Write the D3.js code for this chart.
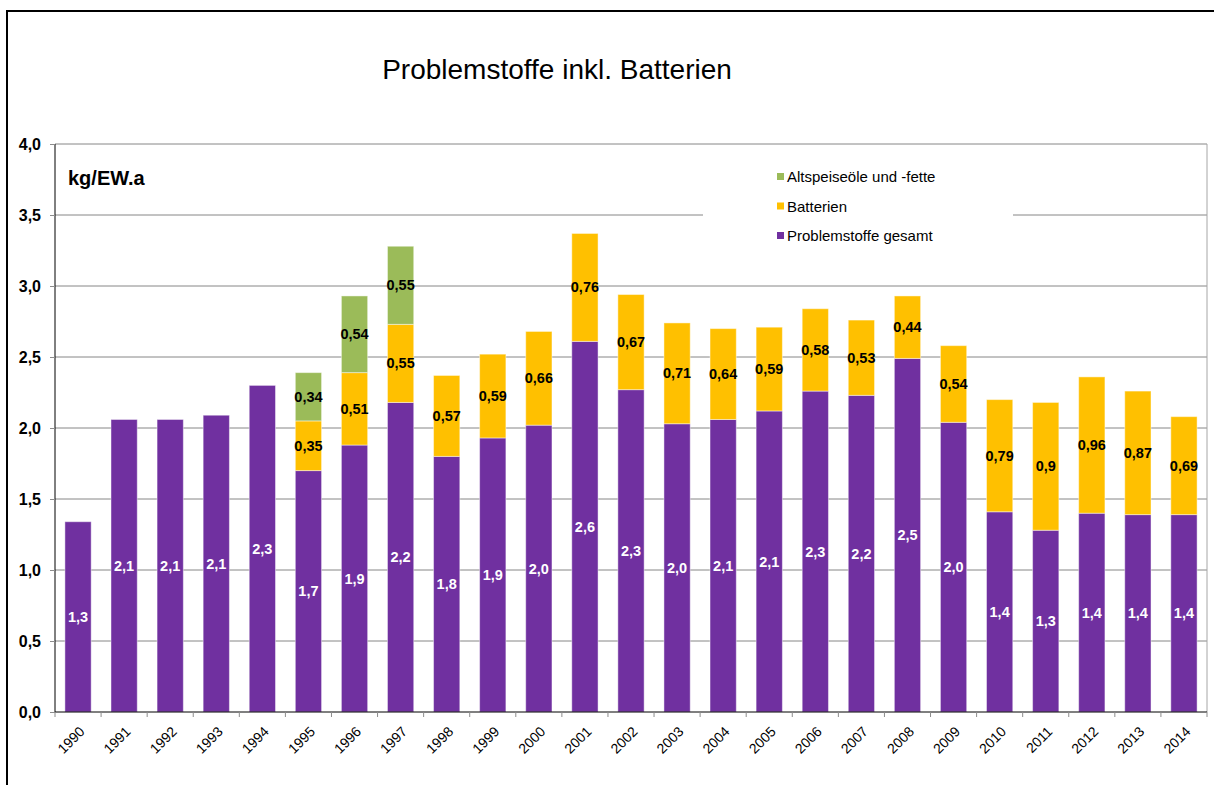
<!DOCTYPE html>
<html>
<head>
<meta charset="utf-8">
<script src="https://cdn.jsdelivr.net/npm/d3@7"></script>
<style>
  body { margin: 0; background: #fff; }
  svg { font-family: "Liberation Sans", Arial, sans-serif; }
</style>
</head>
<body>
<div id="chart"></div>
<script>
// Data
const years = ["1990","1991","1992","1993","1994","1995","1996","1997","1998","1999","2000","2001","2002",
               "2003","2004","2005","2006","2007","2008","2009","2010","2011","2012","2013","2014"];
const problemstoffe = [1.34,2.06,2.06,2.09,2.30,1.70,1.88,2.18,1.80,1.93,2.02,2.61,2.27,
                       2.03,2.06,2.12,2.26,2.23,2.49,2.04,1.41,1.28,1.40,1.39,1.39];
const batterien = [null,null,null,null,null,0.35,0.51,0.55,0.57,0.59,0.66,0.76,0.67,
                   0.71,0.64,0.59,0.58,0.53,0.44,0.54,0.79,0.90,0.96,0.87,0.69];
const altspeiseoele = [null,null,null,null,null,0.34,0.54,0.55,null,null,null,null,null,
                       null,null,null,null,null,null,null,null,null,null,null,null];
const yTicks = [0,0.5,1,1.5,2,2.5,3,3.5,4];

const seriesNames = ["Problemstoffe gesamt", "Batterien", "Altspeiseöle und -fette"];
const colors = ["#7030A0", "#FFC000", "#9BBB59"];
const labelColors = ["#fff", "#000", "#000"];

const width = 1215, height = 785;
const margin = { top: 144, right: 8, bottom: 73, left: 55 };
const innerW = width - margin.left - margin.right;
const innerH = height - margin.top - margin.bottom;

const svg = d3.select("#chart").append("svg")
    .attr("width", width)
    .attr("height", height);

// Outer frame (top and left edges visible)
svg.append("path")
    .attr("d", "M7,786 L7,11 L1214,11")
    .attr("fill", "none")
    .attr("stroke", "#000")
    .attr("stroke-width", 2);

// Title
svg.append("text")
    .attr("x", 557)
    .attr("y", 79)
    .attr("text-anchor", "middle")
    .style("font-size", "28px")
    .text("Problemstoffe inkl. Batterien");

const g = svg.append("g")
    .attr("transform", `translate(${margin.left}, ${margin.top})`);

const x = d3.scaleBand()
    .domain(years)
    .range([0, innerW])
    .paddingInner(0.43)
    .paddingOuter(0.215);

const y = d3.scaleLinear()
    .domain([0, 4])
    .range([innerH, 0]);

// Gridlines
g.selectAll(".grid")
    .data(yTicks.slice(1))
    .enter().append("line")
    .attr("x1", 0)
    .attr("x2", innerW)
    .attr("y1", d => y(d))
    .attr("y2", d => y(d))
    .attr("stroke", "#868686")
    .attr("stroke-width", 1);

// Right border of plot area
g.append("line")
    .attr("x1", innerW).attr("x2", innerW)
    .attr("y1", 0).attr("y2", innerH)
    .attr("stroke", "#a6a6a6");

// Stack data
const rows = years.map((yr, i) => ({
    year: yr,
    vals: [problemstoffe[i], batterien[i], altspeiseoele[i]]
}));

rows.forEach(r => {
    let base = 0;
    r.segs = r.vals.map((v, k) => {
        const s = { year: r.year, k: k, v: v, y0: base, y1: base + (v || 0) };
        base += (v || 0);
        return s;
    }).filter(s => s.v != null);
});

const segs = rows.flatMap(r => r.segs);

g.selectAll("rect.bar")
    .data(segs)
    .enter().append("rect")
    .attr("class", "bar")
    .attr("x", d => x(d.year))
    .attr("width", x.bandwidth())
    .attr("y", d => y(d.y1))
    .attr("height", d => y(d.y0) - y(d.y1))
    .attr("fill", d => colors[d.k])
    .attr("stroke", "rgba(255,255,255,0.45)")
    .attr("stroke-width", 1);

// Data labels, centred in each segment
const fmt1 = v => d3.format(".1f")(v).replace(".", ",");
const fmt2 = v => String(v).replace(".", ",");
g.selectAll("text.lbl")
    .data(segs)
    .enter().append("text")
    .attr("class", "lbl")
    .attr("x", d => x(d.year) + x.bandwidth() / 2)
    .attr("y", d => (y(d.y0) + y(d.y1)) / 2)
    .attr("dy", "0.35em")
    .attr("text-anchor", "middle")
    .attr("fill", d => labelColors[d.k])
    .style("font-size", "14.5px")
    .style("font-weight", "bold")
    .text(d => d.k === 0 ? fmt1(d.v) : fmt2(d.v));

// Y axis
const yAxis = g.append("g")
    .call(d3.axisLeft(y).tickValues(yTicks).tickSize(5).tickPadding(9)
        .tickFormat(d => d3.format(".1f")(d).replace(".", ",")));
yAxis.select(".domain").attr("stroke", "#000").attr("d", `M0,${innerH}V0`);
yAxis.selectAll(".tick line").attr("stroke", "#8c8c8c");
yAxis.selectAll(".tick text")
    .style("font-size", "16px")
    .style("font-weight", "bold")
    .style("font-family", "Liberation Sans, Arial, sans-serif")
    .attr("fill", "#000");

// X axis
const xAxis = g.append("g")
    .attr("transform", `translate(0,${innerH})`)
    .call(d3.axisBottom(x).tickSize(0).tickPadding(0));
xAxis.select(".domain").attr("stroke", "#000").attr("d", `M0,0H${innerW}`);
xAxis.selectAll(".tick text")
    .style("font-size", "14px")
    .style("font-family", "Liberation Sans, Arial, sans-serif")
    .attr("fill", "#000")
    .style("text-anchor", "end")
    .attr("dy", "0.35em")
    .attr("transform", "translate(4,17) rotate(-45)");

// Category boundary ticks
g.selectAll(".xtick")
    .data(d3.range(years.length + 1))
    .enter().append("line")
    .attr("x1", i => i * innerW / years.length)
    .attr("x2", i => i * innerW / years.length)
    .attr("y1", innerH)
    .attr("y2", innerH + 5)
    .attr("stroke", "#8c8c8c");

// Unit label
svg.append("text")
    .attr("x", 68)
    .attr("y", 185)
    .style("font-size", "20px")
    .style("font-weight", "bold")
    .text("kg/EW.a");

// Legend
const legend = svg.append("g");
legend.append("rect")
    .attr("x", 703).attr("y", 160)
    .attr("width", 310).attr("height", 95)
    .attr("fill", "#fff");

const legendOrder = [2, 1, 0];
legendOrder.forEach((k, i) => {
    const ly = 177 + i * 29.5;
    legend.append("rect")
        .attr("x", 777).attr("y", ly - 4)
        .attr("width", 7).attr("height", 7)
        .attr("fill", colors[k]);
    legend.append("text")
        .attr("x", 787).attr("y", ly)
        .attr("dy", "0.35em")
        .style("font-size", "15px")
        .text(seriesNames[k]);
});
</script>
</body>
</html>
